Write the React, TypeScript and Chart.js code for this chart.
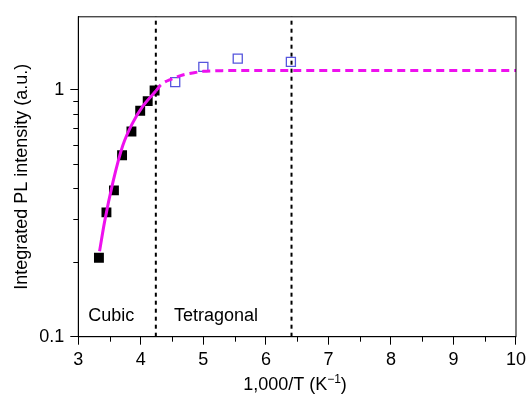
import React, { useEffect, useRef } from "react";
import { Chart, registerables } from "chart.js";

Chart.register(...registerables);

// Measured data (1000/T, integrated PL intensity)
const cubicX = [3.33, 3.45, 3.57, 3.7, 3.85, 3.99, 4.11, 4.22];
const cubicY = [0.209, 0.319, 0.392, 0.544, 0.679, 0.824, 0.901, 0.995];
const tetraX = [4.55, 5.0, 5.55, 6.4];
const tetraY = [1.076, 1.24, 1.34, 1.3];

// Fit curve
const fitSolidX = [3.34, 3.42, 3.555, 3.71, 3.87, 4.03, 4.24];
const fitSolidY = [0.222, 0.292, 0.424, 0.594, 0.736, 0.858, 0.99];
const fitDashX = [4.24, 4.32, 4.5, 4.67, 4.85, 5.0, 5.3, 5.6, 6, 7, 8, 9, 10];
const fitDashY = [0.99, 1.05, 1.11, 1.15, 1.175, 1.19, 1.198, 1.2, 1.2, 1.2, 1.2, 1.2, 1.2];

// Phase boundaries
const boundaries = [4.24, 6.41];

const xTicks = [3, 4, 5, 6, 7, 8, 9, 10];
const xMinorTicks = [3.5, 4.5, 5.5, 6.5, 7.5, 8.5, 9.5];
const yTicks = [0.1, 1];
const yMinorTicks = [0.2, 0.3, 0.4, 0.5, 0.6, 0.7, 0.8, 0.9];

const phaseLabels = ["Cubic", "Tetragonal"];
const phaseLabelX = [3.16, 4.53];

const FONT = "'Liberation Sans', Arial, Helvetica, sans-serif";
const FS = 18;

const zip = (xs: number[], ys: number[]) => xs.map((x, i) => ({ x, y: ys[i] }));

const framePlugin = {
  id: "frame",
  afterDraw(chart: any) {
    const { ctx, chartArea, scales } = chart;
    const xs = scales.x;
    const ys = scales.y;
    ctx.save();
    ctx.strokeStyle = "#000";
    ctx.lineWidth = 1;
    ctx.strokeRect(chartArea.left, chartArea.top, chartArea.right - chartArea.left, chartArea.bottom - chartArea.top);
    ctx.beginPath();
    xMinorTicks.forEach((v) => {
      const px = Math.round(xs.getPixelForValue(v)) + 0.5;
      ctx.moveTo(px, chartArea.bottom);
      ctx.lineTo(px, chartArea.bottom + 5);
    });
    yMinorTicks.forEach((v) => {
      const py = Math.round(ys.getPixelForValue(v)) + 0.5;
      ctx.moveTo(chartArea.left, py);
      ctx.lineTo(chartArea.left - 5, py);
    });
    ctx.stroke();

    // phase labels
    ctx.fillStyle = "#000";
    ctx.font = `${FS}px ${FONT}`;
    ctx.textBaseline = "middle";
    ctx.textAlign = "left";
    phaseLabels.forEach((t, i) => {
      ctx.fillText(t, xs.getPixelForValue(phaseLabelX[i]), 316);
    });

    // y title
    ctx.save();
    ctx.translate(22, (chartArea.top + chartArea.bottom) / 2);
    ctx.rotate(-Math.PI / 2);
    ctx.textAlign = "center";
    ctx.textBaseline = "middle";
    ctx.font = `${FS}px ${FONT}`;
    ctx.fillText("Integrated PL intensity (a.u.)", 0, 0);
    ctx.restore();

    // x title with superscript
    const main = "1,000/T (K";
    const sup = "\u22121";
    const end = ")";
    ctx.font = `${FS}px ${FONT}`;
    const w1 = ctx.measureText(main).width;
    const w3 = ctx.measureText(end).width;
    ctx.font = `12px ${FONT}`;
    const w2 = ctx.measureText(sup).width;
    const total = w1 + w2 + w3;
    const cx = 295;
    const by = 390;
    const x0 = cx - total / 2;
    ctx.textAlign = "left";
    ctx.textBaseline = "alphabetic";
    ctx.font = `${FS}px ${FONT}`;
    ctx.fillText(main, x0, by);
    ctx.font = `12px ${FONT}`;
    ctx.fillText(sup, x0 + w1, by - 7);
    ctx.font = `${FS}px ${FONT}`;
    ctx.fillText(end, x0 + w1 + w2, by);
    ctx.restore();
  },
};

export default function App() {
  const ref = useRef<HTMLCanvasElement | null>(null);
  useEffect(() => {
    if (!ref.current) return;
    Chart.defaults.font.family = FONT;
    const chart = new Chart(ref.current, {
      type: "scatter",
      data: {
        datasets: [
          {
            type: "line",
            data: zip(fitSolidX, fitSolidY),
            borderColor: "#ee11ee",
            borderWidth: 3,
            pointRadius: 0,
            cubicInterpolationMode: "monotone",
            fill: false,
          } as any,
          {
            type: "line",
            data: zip(fitDashX, fitDashY),
            borderColor: "#ee11ee",
            borderWidth: 3,
            borderDash: [8, 5],
            pointRadius: 0,
            cubicInterpolationMode: "monotone",
            fill: false,
          } as any,
          {
            data: zip(cubicX, cubicY),
            pointStyle: "rect",
            pointRadius: 7,
            backgroundColor: "#000",
            borderColor: "#000",
            borderWidth: 0,
          },
          {
            data: zip(tetraX, tetraY),
            pointStyle: "rect",
            pointRadius: 6.4,
            backgroundColor: "rgba(0,0,0,0)",
            borderColor: "#5555dd",
            borderWidth: 1.3,
          },
          ...boundaries.map((b) => ({
            type: "line",
            data: [
              { x: b, y: 0.1 },
              { x: b, y: 2 },
            ],
            borderColor: "#000",
            borderWidth: 2,
            borderDash: [4, 4],
            pointRadius: 0,
            fill: false,
          })) as any,
        ],
      },
      options: {
        animation: false,
        responsive: false,
        maintainAspectRatio: false,
        layout: { padding: { left: 0, top: 12.7, right: 11.5, bottom: 0 } },
        plugins: { legend: { display: false }, tooltip: { enabled: false } },
        scales: {
          x: {
            type: "linear",
            min: 3,
            max: 10,
            afterBuildTicks: (s: any) => {
              s.ticks = xTicks.map((v) => ({ value: v }));
            },
            afterFit: (s: any) => {
              s.height = 68.3;
            },
            grid: {
              drawOnChartArea: false,
              drawTicks: true,
              tickLength: 8,
              color: "#000",
            },
            border: { display: true, color: "#000", width: 1 },
            ticks: {
              color: "#000",
              font: { size: FS, family: FONT },
              padding: 5,
              maxRotation: 0,
              autoSkip: false,
              callback: (v: any) => String(v),
            },
          },
          y: {
            type: "logarithmic",
            min: 0.1,
            max: 1.98,
            afterBuildTicks: (s: any) => {
              s.ticks = yTicks.map((v) => ({ value: v }));
            },
            afterFit: (s: any) => {
              s.width = 78.3;
            },
            grid: {
              drawOnChartArea: false,
              drawTicks: true,
              tickLength: 8,
              color: "#000",
            },
            border: { display: true, color: "#000", width: 1 },
            ticks: {
              color: "#000",
              font: { size: FS, family: FONT },
              padding: 6,
              autoSkip: false,
              callback: (v: any) => (v === 0.1 ? "0.1" : v === 1 ? "1" : ""),
            },
          },
        },
      },
      plugins: [framePlugin],
    });
    return () => chart.destroy();
  }, []);
  return (
    <div style={{ position: "fixed", left: 0, top: 0, width: 531, height: 405, background: "#fff" }}>
      <canvas ref={ref} width={531} height={405} style={{ width: 531, height: 405 }} />
    </div>
  );
}
